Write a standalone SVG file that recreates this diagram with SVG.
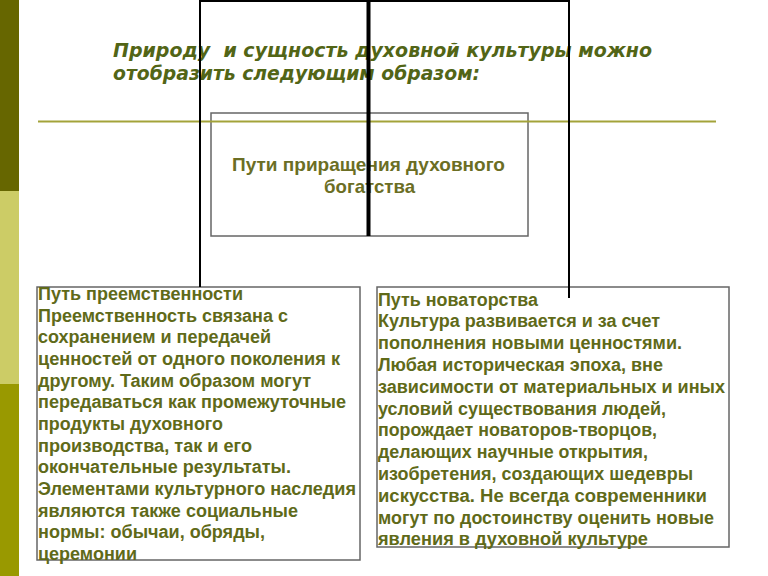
<svg xmlns="http://www.w3.org/2000/svg" width="768" height="576" viewBox="0 0 768 576">
  <style>
    .box { fill: #ffffff; stroke: #666666; stroke-width: 1.5; }
    .body { font-family: "Liberation Sans", Arial, sans-serif; font-weight: bold; font-size: 17.5px; fill: #5f6a19; }
    .center { font-family: "Liberation Sans", Arial, sans-serif; font-weight: bold; font-size: 18.5px; fill: #6b6e24; text-anchor: middle; }
    .title { font-family: "DejaVu Sans", Verdana, sans-serif; font-weight: bold; font-style: italic; font-size: 19px; fill: #526516; }
    .conn { stroke: #000000; fill: none; stroke-linecap: butt; }
  </style>
  <rect x="0" y="0" width="768" height="576" fill="#ffffff"/>
  <g id="sidebar">
    <rect x="0" y="0" width="19" height="191" fill="#666600"/>
    <rect x="0" y="191" width="19" height="193" fill="#cccc66"/>
    <rect x="0" y="384" width="19" height="192" fill="#999900"/>
  </g>
  <g id="center-node">
    <rect class="box" x="211" y="113" width="317" height="123"/>
    <text class="center" x="368.5" y="170.5" textLength="273" lengthAdjust="spacingAndGlyphs">Пути приращения духовного</text>
    <text class="center" x="369.5" y="192.5" textLength="91" lengthAdjust="spacingAndGlyphs">богатства</text>
  </g>
  <g id="rule">
    <line x1="38" y1="121.5" x2="716" y2="121.5" stroke="#a3a33a" stroke-width="2"/>
  </g>
  <g id="title">
    <text class="title" x="113" y="56.5" xml:space="preserve" textLength="539" lengthAdjust="spacingAndGlyphs">Природу  и сущность духовной культуры можно</text>
    <text class="title" x="113" y="79.5" textLength="367" lengthAdjust="spacingAndGlyphs">отобразить следующим образом:</text>
  </g>
  <g id="left-node">
    <rect class="box" x="37" y="287" width="323" height="273"/>
    <text class="body" x="38" y="300" textLength="205" lengthAdjust="spacingAndGlyphs">Путь преемственности</text>
    <text class="body" x="38" y="321.7" textLength="250" lengthAdjust="spacingAndGlyphs">Преемственность связана с</text>
    <text class="body" x="38" y="343.3" textLength="233" lengthAdjust="spacingAndGlyphs">сохранением и передачей</text>
    <text class="body" x="38" y="365" textLength="302" lengthAdjust="spacingAndGlyphs">ценностей от одного поколения к</text>
    <text class="body" x="38" y="386.7" textLength="273" lengthAdjust="spacingAndGlyphs">другому. Таким образом могут</text>
    <text class="body" x="38" y="408.3" textLength="308" lengthAdjust="spacingAndGlyphs">передаваться как промежуточные</text>
    <text class="body" x="38" y="430" textLength="185" lengthAdjust="spacingAndGlyphs">продукты духовного</text>
    <text class="body" x="38" y="451.7" textLength="214" lengthAdjust="spacingAndGlyphs">производства, так и его</text>
    <text class="body" x="38" y="473.3" textLength="253" lengthAdjust="spacingAndGlyphs">окончательные результаты.</text>
    <text class="body" x="38" y="495" textLength="318" lengthAdjust="spacingAndGlyphs">Элементами культурного наследия</text>
    <text class="body" x="38" y="516.7" textLength="260" lengthAdjust="spacingAndGlyphs">являются также социальные</text>
    <text class="body" x="38" y="538.3" textLength="227" lengthAdjust="spacingAndGlyphs">нормы: обычаи, обряды,</text>
    <text class="body" x="38" y="560" textLength="99" lengthAdjust="spacingAndGlyphs">церемонии</text>
  </g>
  <g id="right-node">
    <rect class="box" x="377" y="287" width="352" height="260"/>
    <text class="body" x="378" y="305.5" textLength="160" lengthAdjust="spacingAndGlyphs">Путь новаторства</text>
    <text class="body" x="378" y="327.3" textLength="282" lengthAdjust="spacingAndGlyphs">Культура развивается и за счет</text>
    <text class="body" x="378" y="349.1" textLength="304" lengthAdjust="spacingAndGlyphs">пополнения новыми ценностями.</text>
    <text class="body" x="378" y="370.9" textLength="285" lengthAdjust="spacingAndGlyphs">Любая историческая эпоха, вне</text>
    <text class="body" x="378" y="392.7" textLength="347" lengthAdjust="spacingAndGlyphs">зависимости от материальных и иных</text>
    <text class="body" x="378" y="414.5" textLength="288" lengthAdjust="spacingAndGlyphs">условий существования людей,</text>
    <text class="body" x="378" y="436.3" textLength="279" lengthAdjust="spacingAndGlyphs">порождает новаторов-творцов,</text>
    <text class="body" x="378" y="458.1" textLength="270" lengthAdjust="spacingAndGlyphs">делающих научные открытия,</text>
    <text class="body" x="378" y="479.9" textLength="315" lengthAdjust="spacingAndGlyphs">изобретения, создающих шедевры</text>
    <text class="body" x="378" y="501.7" textLength="329" lengthAdjust="spacingAndGlyphs">искусства. Не всегда современники</text>
    <text class="body" x="378" y="523.5" textLength="336" lengthAdjust="spacingAndGlyphs">могут по достоинству оценить новые</text>
    <text class="body" x="378" y="545.3" textLength="270" lengthAdjust="spacingAndGlyphs">явления в духовной культуре</text>
  </g>
  <g id="connectors">
    <line class="conn" x1="199" y1="1" x2="570" y2="1" stroke-width="2"/>
    <line class="conn" x1="200" y1="0" x2="200" y2="287" stroke-width="2"/>
    <line class="conn" x1="368.5" y1="0" x2="368.5" y2="236" stroke-width="4"/>
    <line class="conn" x1="569" y1="0" x2="569" y2="298" stroke-width="2"/>
  </g>
</svg>
